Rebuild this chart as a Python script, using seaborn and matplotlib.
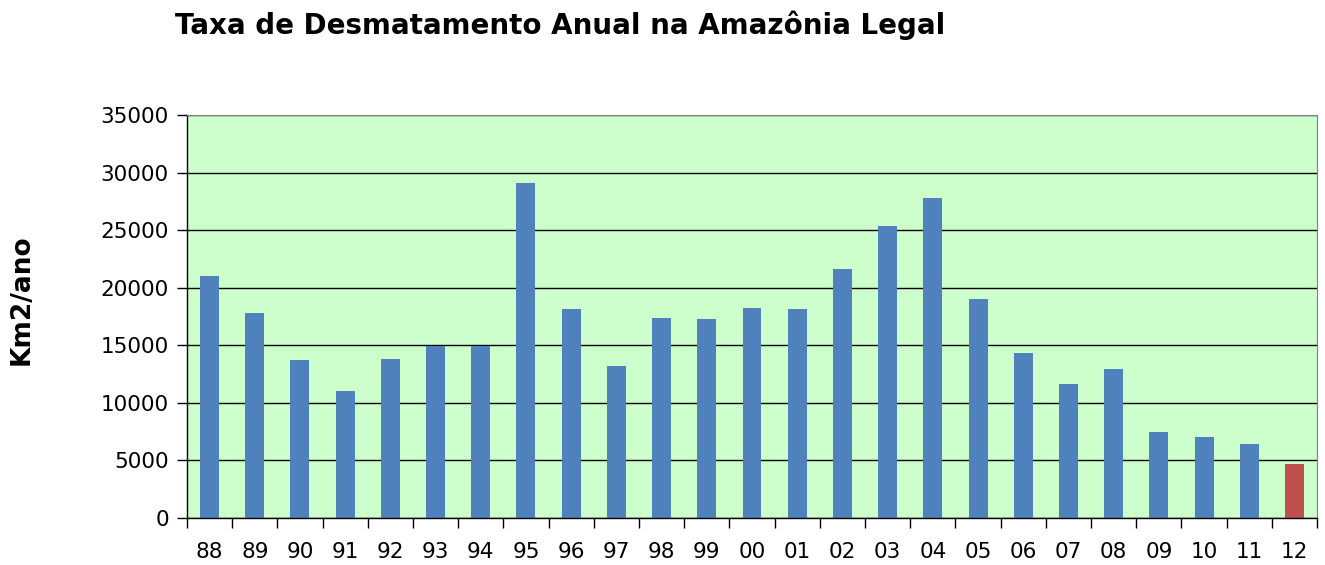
import matplotlib
matplotlib.use("Agg")
import numpy as np
import pandas as pd
import matplotlib.pyplot as plt
import seaborn as sns
from matplotlib.ticker import FixedLocator

# Taxa anual de desmatamento (km2/ano), PRODES
anos = ["88", "89", "90", "91", "92", "93", "94", "95", "96", "97", "98", "99",
        "00", "01", "02", "03", "04", "05", "06", "07", "08", "09", "10", "11", "12"]
taxa = [21050, 17770, 13730, 11030, 13786, 14896, 14896, 29059, 18161, 13227,
        17383, 17259, 18226, 18165, 21651, 25396, 27772, 19014, 14286, 11651,
        12911, 7464, 7000, 6418, 4656]
tipo = ["consolidado"] * 24 + ["estimativa"]

df = pd.DataFrame({"ano": anos, "taxa": taxa, "tipo": tipo})

sns.set_style("white")
plt.rcParams["font.family"] = ["DejaVu Sans"]
plt.rcParams["text.color"] = "black"
plt.rcParams["axes.labelcolor"] = "black"
plt.rcParams["xtick.color"] = "black"
plt.rcParams["ytick.color"] = "black"

fig = plt.figure(figsize=(13.25, 5.65), dpi=100)
ax = fig.add_axes([0.1411, 0.0832, 0.8529, 0.7133])
ax.set_facecolor("#ccffcc")

sns.barplot(data=df, x="ano", y="taxa", hue="tipo",
            palette={"consolidado": "#4f81bd", "estimativa": "#c0504d"},
            dodge=False, width=0.42, legend=False, saturation=1,
            edgecolor="none", linewidth=0, ax=ax)

ax.set_ylim(0, 35000)
ax.set_xlim(-0.5, len(anos) - 0.5)
ax.set_yticks(range(0, 35001, 5000))
ax.yaxis.grid(True, color="black", linewidth=1)
ax.set_axisbelow(True)

# marcas do eixo x entre as categorias
ax.xaxis.set_minor_locator(FixedLocator(np.arange(-0.5, len(anos), 1)))
ax.tick_params(axis="x", which="major", bottom=False, length=0, labelsize=15.5, pad=17)
ax.tick_params(axis="x", which="minor", bottom=True, length=7, width=1, color="black", direction="out")
ax.tick_params(axis="y", left=True, length=7, width=1, color="black", direction="out",
               labelsize=15.5, pad=6)

for s in ["left", "bottom"]:
    ax.spines[s].set_color("black")
    ax.spines[s].set_linewidth(1)
ax.spines["right"].set_color("#808080")
ax.spines["top"].set_color("#808080")

ax.set_xlabel("")
ax.set_ylabel("")
fig.text(22 / 1325, 1 - 300 / 565, "Km2/ano", fontsize=19, fontweight="bold",
         rotation=90, ha="center", va="center")

fig.text(0.132, 0.955, "Taxa de Desmatamento Anual na Amazônia Legal",
         fontsize=20, fontweight="bold", ha="left", va="center")

fig.savefig("out.png", dpi=100)
